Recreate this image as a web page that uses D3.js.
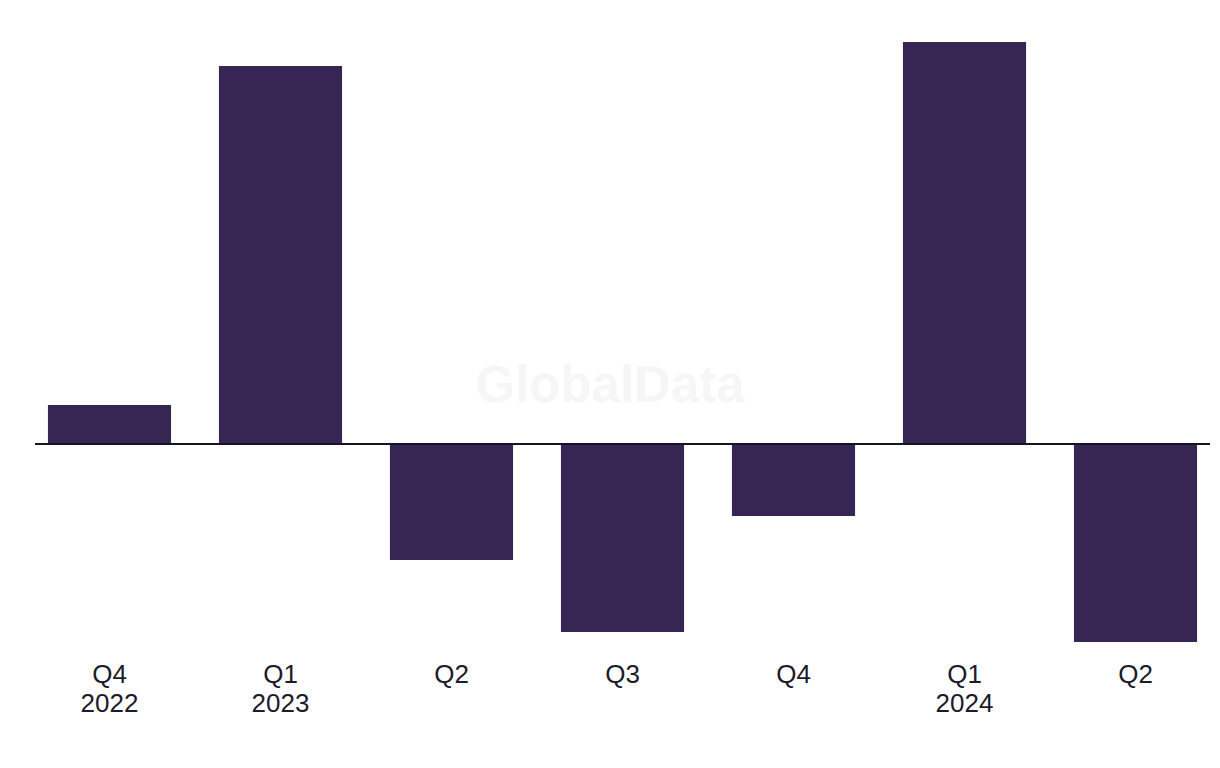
<!DOCTYPE html>
<html>
<head>
<meta charset="utf-8">
<script src="https://cdn.jsdelivr.net/npm/d3@7"></script>
<style>
  html, body { margin: 0; padding: 0; background: #ffffff; }
  svg { display: block; }
</style>
</head>
<body>
<svg id="chart" width="1220" height="768"></svg>
<script>
const quarters = ["Q4", "Q1", "Q2", "Q3", "Q4", "Q1", "Q2"];
const years = ["2022", "2023", "", "", "", "2024", ""];
const values = [1.9, 18.85, -5.85, -9.45, -3.65, 20.05, -9.95];

const W = 1220, H = 768;
const svg = d3.select("#chart");

const x = d3.scaleBand()
  .domain(d3.range(values.length))
  .range([24, 1221])
  .paddingInner(0.28)
  .paddingOuter(0.14);

const y = d3.scaleLinear().domain([-10, 20]).range([643, 43]);

// watermark
svg.append("text")
  .attr("x", 610).attr("y", 402)
  .attr("text-anchor", "middle")
  .attr("font-family", "Liberation Sans, Arial, sans-serif")
  .attr("font-weight", "bold")
  .attr("font-size", 51)
  .attr("fill", "#f6f6f6")
  .text("GlobalData");

svg.append("g").selectAll("rect")
  .data(values)
  .join("rect")
  .attr("x", (d, i) => x(i))
  .attr("width", x.bandwidth())
  .attr("y", d => y(Math.max(0, d)))
  .attr("height", d => Math.abs(y(d) - y(0)))
  .attr("fill", "#372554");

svg.append("line")
  .attr("x1", 35).attr("x2", 1210)
  .attr("y1", y(0) + 1).attr("y2", y(0) + 1)
  .attr("stroke", "#161528")
  .attr("stroke-width", 2);

const labels = svg.append("g")
  .attr("font-family", "Liberation Sans, Arial, sans-serif")
  .attr("font-size", 26)
  .attr("fill", "#1c1b2b")
  .attr("text-anchor", "middle");

labels.selectAll("text.q")
  .data(quarters)
  .join("text")
  .attr("class", "q")
  .attr("x", (d, i) => x(i) + x.bandwidth() / 2)
  .attr("y", 683)
  .text(d => d);

labels.selectAll("text.yr")
  .data(years)
  .join("text")
  .attr("class", "yr")
  .attr("x", (d, i) => x(i) + x.bandwidth() / 2)
  .attr("y", 712)
  .text(d => d);
</script>
</body>
</html>
